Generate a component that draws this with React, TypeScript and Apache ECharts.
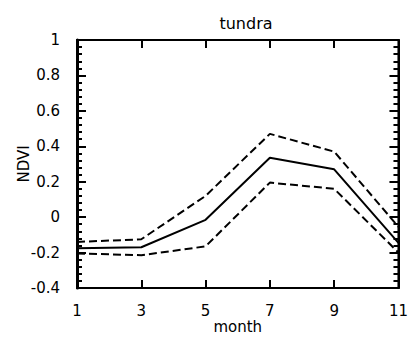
import React, { useEffect, useRef } from "react";
import * as echarts from "echarts";

const months = [1, 3, 5, 7, 9, 11];
const meanNdvi = [-0.175, -0.17, -0.015, 0.335, 0.27, -0.145];
const upperNdvi = [-0.14, -0.125, 0.12, 0.47, 0.37, -0.055];
const lowerNdvi = [-0.205, -0.215, -0.165, 0.195, 0.16, -0.2];

const FONT = "DejaVu Sans";

export default function App() {
  const ref = useRef<HTMLDivElement>(null);
  useEffect(() => {
    if (!ref.current) return;
    const chart = echarts.init(ref.current, undefined, { renderer: "svg" });
    const pair = (arr: number[]) => months.map((m, i) => [m, arr[i]]);
    const tick = (len: number) => ({
      show: true,
      inside: true,
      length: len,
      lineStyle: { color: "#000", width: 2 },
    });
    const minor = () => ({ show: true, splitNumber: 5, length: 5, lineStyle: { color: "#000", width: 2 } });
    chart.setOption({
      animation: false,
      backgroundColor: "#fff",
      title: {
        text: "tundra",
        left: 241,
        top: 10,
        textAlign: "center",
        textStyle: { fontFamily: FONT, fontSize: 16, fontWeight: "normal", color: "#000" },
      },
      grid: { left: 77, right: 2, top: 40, bottom: 50, show: true, borderColor: "#000", borderWidth: 2 },
      xAxis: [
        {
          type: "value",
          min: 1,
          max: 11,
          interval: 2,
          name: "month",
          nameLocation: "middle",
          nameGap: 31,
          nameMoveOverlap: false,
          nameTextStyle: { fontFamily: FONT, fontSize: 15, color: "#000" },
          axisLine: { show: true, onZero: false, lineStyle: { color: "#000", width: 2 } },
          splitLine: { show: false },
          axisTick: tick(8),
          axisLabel: { fontFamily: FONT, fontSize: 15, color: "#000", margin: 15 },
        },
        {
          type: "value",
          position: "top",
          min: 1,
          max: 11,
          interval: 2,
          axisLine: { show: true, onZero: false, lineStyle: { color: "#000", width: 2 } },
          splitLine: { show: false },
          axisTick: tick(8),
          axisLabel: { show: false },
        },
      ],
      yAxis: [
        {
          type: "value",
          min: -0.4,
          max: 1,
          interval: 0.2,
          name: "NDVI",
          nameLocation: "middle",
          nameGap: 46,
          nameMoveOverlap: false,
          nameTextStyle: { fontFamily: FONT, fontSize: 15, color: "#000" },
          axisLine: { show: true, onZero: false, lineStyle: { color: "#000", width: 3 } },
          splitLine: { show: false },
          axisTick: tick(9),
          minorTick: minor(),
          axisLabel: {
            fontFamily: FONT,
            fontSize: 15,
            color: "#000",
            margin: 17,
            formatter: (v: number) => String(Math.round(v * 10) / 10),
          },
        },
        {
          type: "value",
          position: "right",
          min: -0.4,
          max: 1,
          interval: 0.2,
          axisLine: { show: true, onZero: false, lineStyle: { color: "#000", width: 2 } },
          splitLine: { show: false },
          axisTick: tick(9),
          minorTick: minor(),
          axisLabel: { show: false },
        },
      ],
      series: [
        {
          type: "line",
          data: pair(upperNdvi),
          symbol: "none",
          lineStyle: { color: "#000", width: 2, type: [8, 4] },
        },
        {
          type: "line",
          data: pair(meanNdvi),
          symbol: "none",
          lineStyle: { color: "#000", width: 2 },
        },
        {
          type: "line",
          data: pair(lowerNdvi),
          symbol: "none",
          lineStyle: { color: "#000", width: 2, type: [8, 4] },
        },
      ],
    });
    return () => chart.dispose();
  }, []);
  return <div ref={ref} style={{ width: 411, height: 339, position: "absolute", left: 0, top: 0 }} />;
}
